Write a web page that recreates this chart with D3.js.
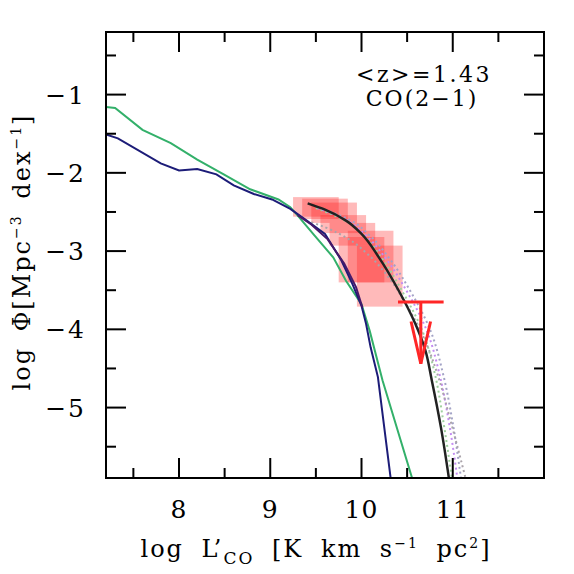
<!DOCTYPE html>
<html>
<head>
<meta charset="utf-8">
<script src="https://cdn.jsdelivr.net/npm/d3@7"></script>
<style>
  body { margin: 0; background: #fff; }
  text { font-family: "DejaVu Serif", serif; fill: #000; }
</style>
</head>
<body>
<svg id="chart" width="574" height="574"></svg>
<script>
// ---- data ----
const xDomain = [7.2, 12];
const yDomain = [-5.9, -0.2];
const xMajor = [8, 9, 10, 11];
const xMinor = [7.5, 8.5, 9.5, 10.5, 11.5];
const yMajor = [-1, -2, -3, -4, -5];
const yMinor = [-0.5, -1.5, -2.5, -3.5, -4.5, -5.5];

// error boxes: left edge of bin (log L'), bin width, lower / upper log Phi
const boxLeft = [9.25, 9.35, 9.45, 9.55, 9.65, 9.75, 9.85, 9.95];
const boxWidth = 0.5;
const boxLow  = [-2.56, -2.59, -2.64, -2.77, -2.93, -3.40, -3.40, -3.71];
const boxHigh = [-2.31, -2.33, -2.38, -2.54, -2.64, -2.82, -2.74, -2.93];

// model curves
const greenModel = [[7.20,-1.16],[7.30,-1.17],[7.60,-1.45],[7.91,-1.62],[8.20,-1.83],[8.49,-2.02],
  [8.78,-2.21],[9.09,-2.34],[9.22,-2.44],[9.29,-2.53],[9.47,-2.78],[9.69,-3.08],[9.83,-3.38],
  [10.00,-3.68],[10.09,-4.02],[10.23,-4.65],[10.58,-6.0]];
const navyModel = [[7.20,-1.51],[7.33,-1.56],[7.80,-1.88],[8.00,-1.97],[8.20,-1.95],[8.41,-2.02],
  [8.60,-2.16],[8.82,-2.27],[9.02,-2.34],[9.22,-2.46],[9.40,-2.61],[9.60,-2.78],[9.69,-2.95],
  [9.78,-3.12],[9.90,-3.42],[10.00,-3.70],[10.05,-3.93],[10.10,-4.23],[10.18,-4.61],[10.33,-6.0]];
const purpleModel = [[9.30,-2.54],[9.45,-2.66],[9.63,-2.85],[9.81,-3.16],[9.94,-3.46],[10.01,-3.72]];

// best fit (solid black)
const fitCurve = [[9.41,-2.39],[9.60,-2.47],[9.83,-2.61],[10.00,-2.78],[10.19,-3.08],[10.41,-3.51],
  [10.59,-3.93],[10.70,-4.27],[10.77,-4.65],[10.87,-5.25],[10.97,-6.0]];

// dotted fit samples
const dotY = [-2.45, -2.6, -2.8, -3.1, -3.5, -4.0, -4.6, -5.2, -5.9];
const dotA = [9.50, 9.80, 10.02, 10.23, 10.44, 10.66, 10.81, 10.90, 10.99];
const dotB = [9.52, 9.83, 10.05, 10.27, 10.49, 10.71, 10.86, 10.96, 11.05];
const dotC = [9.55, 9.87, 10.09, 10.31, 10.53, 10.75, 10.90, 11.00, 11.09];
const dotGrey = [[9.45,-2.63],[9.61,-2.70],[9.85,-2.84],[10.05,-3.02],[10.30,-3.34],[10.50,-3.70],
  [10.68,-4.10],[10.84,-4.60],[10.96,-5.10],[11.14,-5.9]];

// upper limit
const limitX = [10.40, 10.90];
const limitY = -3.65;
const limitTip = -4.44;
const limitWing = -3.90;
const wingHalf = 0.107;

// ---- layout ----
const margin = { left: 106, top: 32, right: 30, bottom: 96 };
const width = 574 - margin.left - margin.right;
const height = 574 - margin.top - margin.bottom;

const svg = d3.select('#chart');
const g = svg.append('g').attr('transform', `translate(${margin.left},${margin.top})`);

const x = d3.scaleLinear().domain(xDomain).range([0, width]);
const y = d3.scaleLinear().domain(yDomain).range([height, 0]);

g.append('clipPath').attr('id', 'plot').append('rect')
    .attr('width', width).attr('height', height);
const plot = g.append('g').attr('clip-path', 'url(#plot)');

// boxes
plot.selectAll('.box')
    .data(boxLeft)
    .enter().append('rect')
    .attr('class', 'box')
    .attr('x', d => x(d))
    .attr('width', x(boxWidth) - x(0))
    .attr('y', (d, i) => y(boxHigh[i]))
    .attr('height', (d, i) => y(boxLow[i]) - y(boxHigh[i]))
    .style('fill', '#ff1a1a')
    .style('fill-opacity', 0.3);

const line = d3.line().x(d => x(d[0])).y(d => y(d[1]));

// dotted fits
const dotted = [
    { pts: dotY.map((v, i) => [dotA[i], v]), color: '#9fd09f' },
    { pts: dotY.map((v, i) => [dotB[i], v]), color: '#c48cf2' },
    { pts: dotY.map((v, i) => [dotC[i], v]), color: '#a3a3c6' },
    { pts: dotGrey, color: '#aaa3aa' }
];
plot.selectAll('.dotfit')
    .data(dotted)
    .enter().append('path')
    .attr('class', 'dotfit')
    .attr('d', d => line.curve(d3.curveMonotoneY)(d.pts))
    .style('fill', 'none')
    .style('stroke', d => d.color)
    .style('stroke-width', 2)
    .style('stroke-dasharray', '2,3');

line.curve(d3.curveLinear);

plot.append('path').datum(greenModel).attr('d', line)
    .style('fill', 'none').style('stroke', '#33b06a').style('stroke-width', 2);
plot.append('path').datum(navyModel).attr('d', line)
    .style('fill', 'none').style('stroke', '#1c1c78').style('stroke-width', 2);
plot.append('path').datum(purpleModel).attr('d', line)
    .style('fill', 'none').style('stroke', '#46196a').style('stroke-width', 2);

plot.append('path').datum(fitCurve).attr('d', line.curve(d3.curveMonotoneY))
    .style('fill', 'none').style('stroke', '#222').style('stroke-width', 2.5);

// upper limit
const limColor = '#ff2626';
const cx = (limitX[0] + limitX[1]) / 2;
plot.append('line')
    .attr('x1', x(limitX[0])).attr('x2', x(limitX[1]))
    .attr('y1', y(limitY)).attr('y2', y(limitY))
    .style('stroke', limColor).style('stroke-width', 3);
plot.append('path')
    .attr('d', d3.line()([[x(cx), y(limitY)], [x(cx), y(limitTip)]]))
    .style('fill', 'none').style('stroke', limColor).style('stroke-width', 3);
plot.append('path')
    .attr('d', d3.line()([[x(cx - wingHalf), y(limitWing)], [x(cx), y(limitTip)], [x(cx + wingHalf), y(limitWing)]]))
    .style('fill', 'none').style('stroke', limColor).style('stroke-width', 3);

// frame and ticks on all four sides
g.append('rect').attr('width', width).attr('height', height)
    .style('fill', 'none').style('stroke', '#000').style('stroke-width', 2);

function ticks(values, len) {
    values.forEach(v => {
        g.append('line').attr('x1', x(v)).attr('x2', x(v)).attr('y1', height).attr('y2', height - len);
        g.append('line').attr('x1', x(v)).attr('x2', x(v)).attr('y1', 0).attr('y2', len);
    });
}
function yticks(values, len) {
    values.forEach(v => {
        g.append('line').attr('y1', y(v)).attr('y2', y(v)).attr('x1', 0).attr('x2', len);
        g.append('line').attr('y1', y(v)).attr('y2', y(v)).attr('x1', width).attr('x2', width - len);
    });
}
ticks(xMajor, 20); ticks(xMinor, 10);
yticks(yMajor, 20); yticks(yMinor, 10);
g.selectAll('line').filter(function () { return !this.style.stroke; })
    .style('stroke', '#000').style('stroke-width', 2);

// tick labels
g.selectAll('.xlab').data(xMajor).enter().append('text')
    .attr('x', d => x(d)).attr('y', height + 40)
    .attr('text-anchor', 'middle').style('font-size', '25px')
    .style('letter-spacing', '1px')
    .text(d => d);
g.selectAll('.ylab').data(yMajor).enter().append('text')
    .attr('x', -20).attr('y', d => y(d) + 9)
    .attr('text-anchor', 'end').style('font-size', '25px')
    .style('letter-spacing', '2px')
    .text(d => '\u2212' + Math.abs(d));

// axis titles
svg.append('text')
    .attr('x', 316).attr('y', 557)
    .attr('text-anchor', 'middle').style('font-size', '24px')
    .style('letter-spacing', '2px').style('word-spacing', '8px')
    .html('log L\u2019<tspan dy="7" font-size="17">CO</tspan><tspan dy="-7"> [K km s</tspan><tspan dy="-9" font-size="14">\u22121</tspan><tspan dy="9"> pc</tspan><tspan dy="-9" font-size="14">2</tspan><tspan dy="9">]</tspan>');

svg.append('text')
    .attr('transform', 'translate(30,252) rotate(-90)')
    .attr('text-anchor', 'middle').style('font-size', '24px')
    .style('letter-spacing', '2px').style('word-spacing', '6px')
    .html('log \u03a6[Mpc<tspan dy="-9" font-size="14">\u22123</tspan><tspan dy="9"> dex</tspan><tspan dy="-9" font-size="14">\u22121</tspan><tspan dy="9">]</tspan>');

// annotation
svg.append('text').attr('x', 424).attr('y', 82)
    .attr('text-anchor', 'middle').style('font-size', '22px')
    .style('letter-spacing', '2.5px').text('<z>=1.43');
svg.append('text').attr('x', 422).attr('y', 106)
    .attr('text-anchor', 'middle').style('font-size', '22px')
    .style('letter-spacing', '2px').text('CO(2\u22121)');
</script>
</body>
</html>
